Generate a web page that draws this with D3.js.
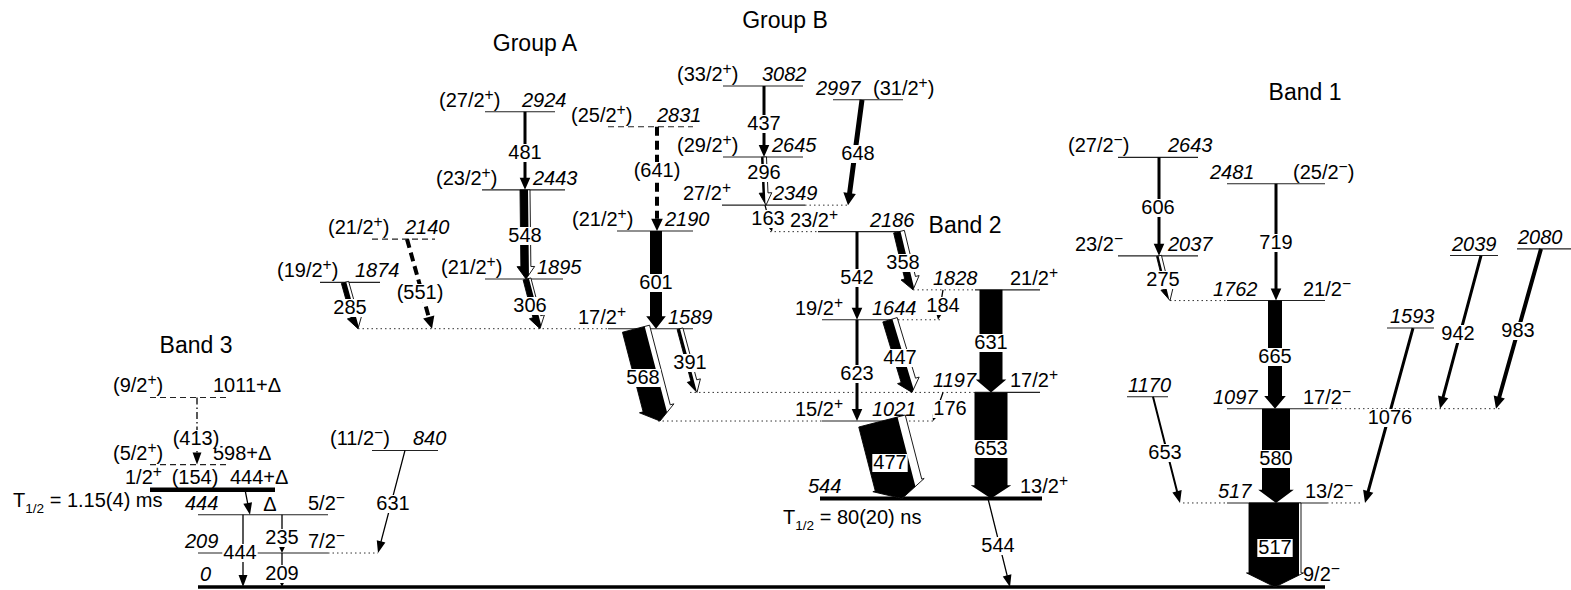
<!DOCTYPE html>
<html>
<head>
<meta charset="utf-8">
<script src="https://cdn.jsdelivr.net/npm/d3@7"></script>
<style>
  body { margin: 0; background: #fff; }
  svg text { font-family: "Liberation Sans", Arial, Helvetica, sans-serif; fill: #000; }
</style>
</head>
<body>
<svg id="chart" width="1571" height="590"></svg>
<script>
// ---------------- Level scheme data ----------------
// Excited levels: energy in keV, spin/parity ("^" raises the next character)
const levels = [
  { id: "0",     energy: 0,    spin: "9/2^−" },
  { id: "209",   energy: 209,  spin: "7/2^−" },
  { id: "444",   energy: 444,  spin: "5/2^−" },
  { id: "444D",  energy: 444,  delta: true, spin: "1/2^+", halfLife: "1.15(4) ms" },
  { id: "598D",  energy: 598,  delta: true, spin: "(5/2^+)", tentative: true },
  { id: "1011D", energy: 1011, delta: true, spin: "(9/2^+)", tentative: true },
  { id: "840",   energy: 840,  spin: "(11/2^−)" },
  { id: "1589",  energy: 1589, spin: "17/2^+" },
  { id: "1874",  energy: 1874, spin: "(19/2^+)" },
  { id: "1895",  energy: 1895, spin: "(21/2^+)" },
  { id: "2140",  energy: 2140, spin: "(21/2^+)", tentative: true },
  { id: "2443",  energy: 2443, spin: "(23/2^+)" },
  { id: "2924",  energy: 2924, spin: "(27/2^+)" },
  { id: "2190",  energy: 2190, spin: "(21/2^+)" },
  { id: "2831",  energy: 2831, spin: "(25/2^+)", tentative: true },
  { id: "2186",  energy: 2186, spin: "23/2^+" },
  { id: "2349",  energy: 2349, spin: "27/2^+" },
  { id: "2645",  energy: 2645, spin: "(29/2^+)" },
  { id: "3082",  energy: 3082, spin: "(33/2^+)" },
  { id: "2997",  energy: 2997, spin: "(31/2^+)" },
  { id: "544",   energy: 544,  spin: "13/2^+", halfLife: "80(20) ns" },
  { id: "1021",  energy: 1021, spin: "15/2^+" },
  { id: "1197",  energy: 1197, spin: "17/2^+" },
  { id: "1644",  energy: 1644, spin: "19/2^+" },
  { id: "1828",  energy: 1828, spin: "21/2^+" },
  { id: "517",   energy: 517,  spin: "13/2^−" },
  { id: "1097",  energy: 1097, spin: "17/2^−" },
  { id: "1762",  energy: 1762, spin: "21/2^−" },
  { id: "2481",  energy: 2481, spin: "(25/2^−)" },
  { id: "2037",  energy: 2037, spin: "23/2^−" },
  { id: "2643",  energy: 2643, spin: "(27/2^−)" },
  { id: "1170",  energy: 1170 },
  { id: "1593",  energy: 1593 },
  { id: "2039",  energy: 2039 },
  { id: "2080",  energy: 2080 }
];

// Gamma transitions: relative intensity and conversion-electron part
const transitions = [
  // Band 3
  { from: "1011D", to: "598D", label: "(413)", intensity: 1, tentative: true },
  { from: "598D",  to: "444D", label: "(154)", intensity: 0, unobserved: true },
  { from: "444D",  to: "444",  label: "Δ",     intensity: 2 },
  { from: "444",   to: "0",    label: "444",   intensity: 2 },
  { from: "444",   to: "209",  label: "235",   intensity: 1 },
  { from: "209",   to: "0",    label: "209",   intensity: 1 },
  { from: "840",   to: "209",  label: "631",   intensity: 2 },
  // Group A
  { from: "2924",  to: "2443", label: "481",   intensity: 6 },
  { from: "2443",  to: "1895", label: "548",   intensity: 16, conv: 4 },
  { from: "1895",  to: "1589", label: "306",   intensity: 12, conv: 4 },
  { from: "2140",  to: "1589", label: "(551)", intensity: 8, tentative: true },
  { from: "1874",  to: "1589", label: "285",   intensity: 10, conv: 5 },
  { from: "2831",  to: "2190", label: "(641)", intensity: 8, tentative: true },
  { from: "2190",  to: "1589", label: "601",   intensity: 24 },
  { from: "1589",  to: "1021", label: "568",   intensity: 46, conv: 10 },
  { from: "1589",  to: "1197", label: "391",   intensity: 6, conv: 6 },
  // Group B
  { from: "3082",  to: "2645", label: "437",   intensity: 6 },
  { from: "2645",  to: "2349", label: "296",   intensity: 4, conv: 6 },
  { from: "2349",  to: "2186", label: "163",   intensity: 1 },
  { from: "2997",  to: "2349", label: "648",   intensity: 10 },
  { from: "2186",  to: "1644", label: "542",   intensity: 6 },
  { from: "2186",  to: "1828", label: "358",   intensity: 14, conv: 8 },
  // Band 2
  { from: "1828",  to: "1644", label: "184",   intensity: 1 },
  { from: "1828",  to: "1197", label: "631",   intensity: 46 },
  { from: "1644",  to: "1197", label: "447",   intensity: 20, conv: 10 },
  { from: "1644",  to: "1021", label: "623",   intensity: 6 },
  { from: "1197",  to: "1021", label: "176",   intensity: 1 },
  { from: "1197",  to: "544",  label: "653",   intensity: 66 },
  { from: "1021",  to: "544",  label: "477",   intensity: 80, conv: 16 },
  { from: "544",   to: "0",    label: "544",   intensity: 2 },
  // Band 1
  { from: "2643",  to: "2037", label: "606",   intensity: 6 },
  { from: "2037",  to: "1762", label: "275",   intensity: 4, conv: 6 },
  { from: "2481",  to: "1762", label: "719",   intensity: 6 },
  { from: "1762",  to: "1097", label: "665",   intensity: 28 },
  { from: "1097",  to: "517",  label: "580",   intensity: 56 },
  { from: "517",   to: "0",    label: "517",   intensity: 100, conv: 2 },
  { from: "1170",  to: "517",  label: "653",   intensity: 4 },
  { from: "1593",  to: "517",  label: "1076",  intensity: 6 },
  { from: "2039",  to: "1097", label: "942",   intensity: 6 },
  { from: "2080",  to: "1097", label: "983",   intensity: 8 }
];

const groupNames = ["Group A", "Group B", "Band 1", "Band 2", "Band 3"];

// ---------------- Drawing layout ----------------
// x: level line extent, ex/sx: energy / spin label start, dots: dotted extensions
const levelLayout = {
  "0":     { x: [198, 1325], lw: 3.5, ex: 200,  sx: 1303 },
  "209":   { x: [198, 328],  ex: 185,  sx: 308, dots: [[328, 378]] },
  "444":   { x: [198, 328],  ex: 185,  sx: 308 },
  "444D":  { x: [150, 275],  lw: 4.5, ex: 230, sx: 125, half: [13, 507] },
  "598D":  { x: [150, 230],  ex: 213,  sx: 113 },
  "1011D": { x: [150, 230],  ex: 213,  sx: 113 },
  "840":   { x: [372, 438],  ex: 413,  sx: 330 },
  "1589":  { x: [608, 693],  ex: 668,  sx: 578, dots: [[358, 608]] },
  "1874":  { x: [320, 380],  ex: 355,  sx: 277 },
  "1895":  { x: [485, 563],  ex: 537,  sx: 441 },
  "2140":  { x: [372, 435],  ex: 405,  sx: 328 },
  "2443":  { x: [482, 565],  ex: 533,  sx: 436 },
  "2924":  { x: [485, 555],  ex: 522,  sx: 439 },
  "2190":  { x: [617, 693],  ex: 665,  sx: 572 },
  "2831":  { x: [608, 693],  ex: 657,  sx: 571 },
  "2186":  { x: [818, 905],  ex: 870,  sx: 790, dots: [[770, 818]] },
  "2349":  { x: [722, 805],  ex: 773,  sx: 683, dots: [[805, 848]] },
  "2645":  { x: [723, 803],  ex: 772,  sx: 677 },
  "3082":  { x: [723, 803],  ex: 762,  sx: 677 },
  "2997":  { x: [833, 903],  ex: 816,  sx: 873 },
  "544":   { x: [820, 1042], lw: 4, ex: 808, sx: 1020, half: [783, 524] },
  "1021":  { x: [822, 900],  ex: 872,  sx: 795, dots: [[658, 822], [900, 935]] },
  "1197":  { x: [975, 1040], ex: 933,  sx: 1010, dots: [[690, 975]] },
  "1644":  { x: [822, 898],  ex: 872,  sx: 795, dots: [[898, 940]] },
  "1828":  { x: [975, 1040], ex: 933,  sx: 1010, dots: [[913, 975]] },
  "517":   { x: [1227, 1327], ex: 1218, sx: 1305, dots: [[1183, 1227], [1327, 1362]] },
  "1097":  { x: [1227, 1327], ex: 1213, sx: 1303, dots: [[1327, 1500]] },
  "1762":  { x: [1227, 1325], ex: 1213, sx: 1303, dots: [[1170, 1227]] },
  "2481":  { x: [1227, 1325], ex: 1210, sx: 1293 },
  "2037":  { x: [1118, 1198], ex: 1168, sx: 1075 },
  "2643":  { x: [1118, 1198], ex: 1168, sx: 1068 },
  "1170":  { x: [1127, 1168], ex: 1128 },
  "1593":  { x: [1387, 1434], ex: 1390 },
  "2039":  { x: [1450, 1498], ex: 1452 },
  "2080":  { x: [1517, 1571], ex: 1518 }
};

// x1/x2: arrow start/end, lx/ly: label centre, head: arrowhead size
const transLayout = {
  "1011D>598D": { x1: 197, x2: 197, lx: 196, ly: 438, dash: "7,3,1.5,3" },
  "598D>444D":  { lx: 195, ly: 476.5 },
  "444D>444":   { x1: 245, x2: 250, lx: 270, ly: 504 },
  "444>0":      { x1: 243, x2: 243, lx: 240, ly: 552 },
  "444>209":    { x1: 282, x2: 282, lx: 282, ly: 537, head: "small" },
  "209>0":      { x1: 282, x2: 282, lx: 282, ly: 573, head: "small" },
  "840>209":    { x1: 405, x2: 378, lx: 393, ly: 503 },
  "2924>2443":  { x1: 525, x2: 525, lx: 525, ly: 152 },
  "2443>1895":  { x1: 525, x2: 526, lx: 525, ly: 235 },
  "1895>1589":  { x1: 527, x2: 540, lx: 530, ly: 305 },
  "2140>1589":  { x1: 407, x2: 432, lx: 420, ly: 292, dash: "9,5" },
  "1874>1589":  { x1: 345, x2: 358, lx: 350, ly: 307 },
  "2831>2190":  { x1: 657, x2: 657, lx: 657, ly: 170, dash: "9,5" },
  "2190>1589":  { x1: 656, x2: 656, lx: 656, ly: 282 },
  "1589>1021":  { x1: 636, x2: 660, lx: 643, ly: 377 },
  "1589>1197":  { x1: 680, x2: 697, lx: 690, ly: 362 },
  "3082>2645":  { x1: 764, x2: 764, lx: 764, ly: 123 },
  "2645>2349":  { x1: 764, x2: 766, lx: 764, ly: 172 },
  "2349>2186":  { x1: 765, x2: 772, lx: 768, ly: 218, head: "small" },
  "2997>2349":  { x1: 862, x2: 848, lx: 858, ly: 153 },
  "2186>1644":  { x1: 857, x2: 857, lx: 857, ly: 277 },
  "2186>1828":  { x1: 899, x2: 913, lx: 903, ly: 262 },
  "1828>1644":  { x1: 943, x2: 938, lx: 943, ly: 305, head: "small" },
  "1828>1197":  { x1: 991, x2: 991, lx: 991, ly: 342 },
  "1644>1197":  { x1: 890, x2: 912, lx: 900, ly: 357 },
  "1644>1021":  { x1: 857, x2: 857, lx: 857, ly: 373 },
  "1197>1021":  { x1: 943, x2: 933, lx: 950, ly: 408, head: "small" },
  "1197>544":   { x1: 991, x2: 991, lx: 991, ly: 448 },
  "1021>544":   { x1: 882, x2: 902, lx: 890, ly: 462 },
  "544>0":      { x1: 988, x2: 1010, lx: 998, ly: 545 },
  "2643>2037":  { x1: 1159, x2: 1159, lx: 1158, ly: 207 },
  "2037>1762":  { x1: 1159, x2: 1170, lx: 1163, ly: 279 },
  "2481>1762":  { x1: 1276, x2: 1276, lx: 1276, ly: 242 },
  "1762>1097":  { x1: 1275, x2: 1275, lx: 1275, ly: 356 },
  "1097>517":   { x1: 1276, x2: 1276, lx: 1276, ly: 458 },
  "517>0":      { x1: 1275, x2: 1275, lx: 1275, ly: 547 },
  "1170>517":   { x1: 1153, x2: 1180, lx: 1165, ly: 452 },
  "1593>517":   { x1: 1413, x2: 1365, lx: 1390, ly: 417 },
  "2039>1097":  { x1: 1481, x2: 1440, lx: 1458, ly: 333 },
  "2080>1097":  { x1: 1541, x2: 1496, lx: 1518, ly: 330 }
};

const groupLayout = {
  "Group A": [535, 51], "Group B": [785, 28], "Band 1": [1305, 100],
  "Band 2": [965, 233], "Band 3": [196, 353]
};

// ---------------- Scales ----------------
const FS = 20;
const DELTA_PLOT = 155;              // plotting offset used for the unknown Δ
const svg = d3.select("#chart");
const yScale = d3.scaleLinear().domain([0, 3082]).range([587, 86]);
const wScale = d3.scaleLinear().domain([0, 100]).range([0, 50]);
const levelById = new Map(levels.map(d => [d.id, d]));
const yOf = id => {
  const L = levelById.get(id);
  return yScale(L.energy + (L.delta ? DELTA_PLOT : 0));
};

// text with "^x" superscripts and "_{..}" subscripts
function addRich(textSel, str) {
  let shift = 0;
  str.split(/(\^.|_\{[^}]*\})/).filter(Boolean).forEach(p => {
    if (p[0] === "^" && p.length === 2) {
      textSel.append("tspan").attr("dy", -7 - shift).attr("font-size", "0.78em").text(p[1]);
      shift = -7;
    } else if (p.startsWith("_{")) {
      textSel.append("tspan").attr("dy", 6 - shift).attr("font-size", "0.68em").text(p.slice(2, -1));
      shift = 6;
    } else {
      textSel.append("tspan").attr("dy", -shift).text(p);
      shift = 0;
    }
  });
}

// ---------------- Levels ----------------
const gLevels = svg.append("g");
levels.forEach(L => {
  const lay = levelLayout[L.id];
  const yy = yOf(L.id);
  (lay.dots || []).forEach(([a, b]) => {
    gLevels.append("line").attr("x1", a).attr("x2", b).attr("y1", yy).attr("y2", yy)
      .attr("stroke", "#333").attr("stroke-width", 1).attr("stroke-dasharray", "1.5,3");
  });
  gLevels.append("line")
    .attr("x1", lay.x[0]).attr("x2", lay.x[1]).attr("y1", yy).attr("y2", yy)
    .attr("stroke", lay.lw ? "#000" : "#222")
    .attr("stroke-width", lay.lw || 1.1)
    .attr("stroke-dasharray", L.tentative ? "6,4" : null);
});

// ---------------- Transitions ----------------
function pts(p) { return p.map(d => d.join(",")).join(" "); }

const gTrans = svg.append("g");
transitions.forEach(t => {
  const key = t.from + ">" + t.to;
  const lay = transLayout[key];
  if (t.unobserved) return;
  const x1 = lay.x1, x2 = lay.x2, y1 = yOf(t.from), y2 = yOf(t.to);
  const dx = x2 - x1, dy = y2 - y1, L = Math.hypot(dx, dy);
  const ux = dx / L, uy = dy / L, rx = uy, ry = -ux;
  const P = (o, d) => [x1 + ux * d + rx * o, y1 + uy * d + ry * o];
  const wb = Math.max(1.3, wScale(t.intensity));
  const wc = t.conv ? Math.max(2, wScale(t.conv)) : 0;
  const T = wb + wc;
  const small = lay.head === "small";
  const hh = small ? 6 : 12 + T * 0.04;
  const H = T / 2 + (small ? 2.2 : (T > 45 ? 2.5 : 3.8));
  const base = L - hh;

  if (lay.dash) {
    gTrans.append("line")
      .attr("x1", x1).attr("y1", y1)
      .attr("x2", P(0, base)[0]).attr("y2", P(0, base)[1])
      .attr("stroke", "#000").attr("stroke-width", wb)
      .attr("stroke-dasharray", lay.dash);
    gTrans.append("polygon").attr("points", pts([P(H, base), P(0, L), P(-H, base)])).attr("fill", "#000");
    return;
  }

  const outline = [P(-T / 2, 0), P(T / 2, 0), P(T / 2, base), P(H, base), P(0, L), P(-H, base), P(-T / 2, base)];
  if (!wc) {
    gTrans.append("polygon").attr("points", pts(outline)).attr("fill", "#000");
    return;
  }
  // conversion part: white stripe on the right side of the arrow
  gTrans.append("polygon").attr("points", pts(outline))
    .attr("fill", "#fff").attr("stroke", "#000").attr("stroke-width", 0.9).attr("stroke-linejoin", "miter");
  const b = -T / 2 + wb;
  let black;
  if (b >= 0) {
    const dint = base + (1 - b / H) * hh;
    black = [P(-T / 2, 0), P(b, 0), P(b, base), P(b, dint), P(0, L), P(-H, base), P(-T / 2, base)];
  } else {
    const dint = base + (1 + b / H) * hh;
    black = [P(-T / 2, 0), P(b, 0), P(b, base), P(b, dint), P(-H, base), P(-T / 2, base)];
  }
  gTrans.append("polygon").attr("points", pts(black)).attr("fill", "#000");
});

// ---------------- Level labels ----------------
const gLab = svg.append("g").attr("font-size", FS);
levels.forEach(L => {
  const lay = levelLayout[L.id];
  const base = yOf(L.id) - (lay.lw ? 6 : 5);
  const eText = gLab.append("text").attr("x", lay.ex).attr("y", base);
  if (L.delta) eText.text(L.energy + "+Δ");
  else eText.attr("font-style", "italic").text(L.energy);
  if (L.spin) {
    const s = gLab.append("text").attr("x", lay.sx).attr("y", base);
    addRich(s, L.spin);
  }
  if (L.halfLife) {
    const h = gLab.append("text").attr("x", lay.half[0]).attr("y", lay.half[1]);
    addRich(h, "T_{1/2}" + " = " + L.halfLife);
  }
});

// ---------------- Transition labels ----------------
const gTL = svg.append("g").attr("font-size", FS);
transitions.forEach(t => {
  const lay = transLayout[t.from + ">" + t.to];
  const g = gTL.append("g");
  const txt = g.append("text").attr("x", lay.lx).attr("y", lay.ly + FS * 0.35)
    .attr("text-anchor", "middle").text(t.label);
  if (!t.unobserved) {
    const bb = txt.node().getBBox();
    g.insert("rect", "text")
      .attr("x", bb.x - 1).attr("y", lay.ly - FS * 0.4)
      .attr("width", bb.width + 2).attr("height", FS * 0.8 + 2)
      .attr("fill", "#fff");
  }
});

// ---------------- Group titles ----------------
svg.append("g").attr("font-size", 23).selectAll("text").data(groupNames).join("text")
  .attr("x", d => groupLayout[d][0]).attr("y", d => groupLayout[d][1])
  .attr("text-anchor", "middle").text(d => d);
</script>
</body>
</html>
